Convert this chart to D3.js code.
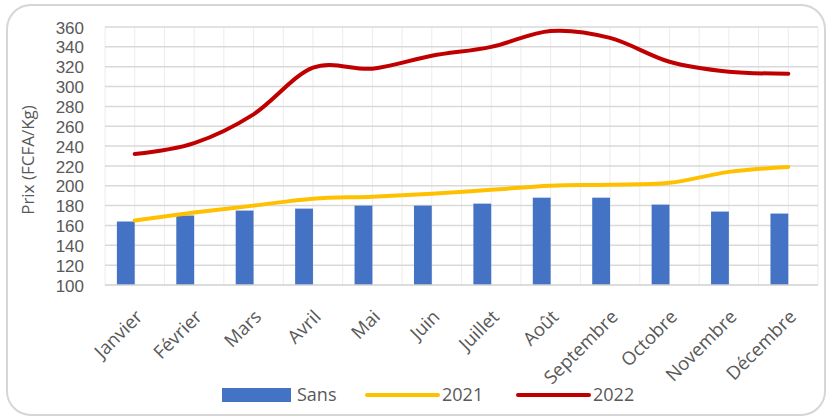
<!DOCTYPE html>
<html>
<head>
<meta charset="utf-8">
<script src="https://cdn.jsdelivr.net/npm/d3@7/dist/d3.min.js"></script>
<style>
  html, body { margin: 0; padding: 0; background: #fff; }
  svg { display: block; font-family: "Open Sans", "Liberation Sans", sans-serif; }
</style>
</head>
<body>
<svg id="chart" width="831" height="418"></svg>
<script>
// Monthly prices (FCFA/Kg)
const months = ["Janvier", "Février", "Mars", "Avril", "Mai", "Juin", "Juillet", "Août", "Septembre", "Octobre", "Novembre", "Décembre"];
const sans = [164, 170, 175, 177, 180, 180, 182, 188, 188, 181, 174, 172];
const prix2021 = [165, 173, 180, 187, 189, 192, 196, 200, 201, 203, 214, 219];
const prix2022 = [232, 243, 272, 319, 318, 331, 340, 356, 349, 325, 315, 313];
const yTicks = [100, 120, 140, 160, 180, 200, 220, 240, 260, 280, 300, 320, 340, 360];
const legendItems = [
  { name: "Sans", type: "bar", color: "#4472C4" },
  { name: "2021", type: "line", color: "#FFC000" },
  { name: "2022", type: "line", color: "#C00000" }
];

const svg = d3.select("#chart");
const W = 831, H = 418;
const plot = { left: 105, right: 818, top: 27, bottom: 285 };

// outer rounded frame
svg.append("rect")
  .attr("x", 7).attr("y", 5).attr("width", W - 13).attr("height", H - 8)
  .attr("rx", 24).attr("ry", 24)
  .attr("fill", "#fff").attr("stroke", "#d6d6d6").attr("stroke-width", 2);

const x = d3.scaleBand().domain(months).range([plot.left, plot.right]).padding(0);
const y = d3.scaleLinear().domain([100, 360]).range([plot.bottom, plot.top]);
const cx = m => x(m) + x.bandwidth() / 2;

// vertical grid (category edges and centres)
const vLines = d3.range(0, months.length * 2 + 1).map(k => plot.left + k * x.bandwidth() / 2);
svg.append("g").selectAll("line").data(vLines).join("line")
  .attr("x1", d => d).attr("x2", d => d)
  .attr("y1", plot.top).attr("y2", plot.bottom)
  .attr("stroke", "#ececec").attr("stroke-width", 1);

// horizontal grid
svg.append("g").selectAll("line").data(yTicks.slice(1)).join("line")
  .attr("x1", plot.left).attr("x2", plot.right)
  .attr("y1", d => y(d)).attr("y2", d => y(d))
  .attr("stroke", "#d9d9d9").attr("stroke-width", 1.5);

// y axis labels
const yAxis = d3.axisLeft(y).tickValues(yTicks).tickSize(0).tickPadding(0);
const gy = svg.append("g").attr("transform", `translate(84,0)`).call(yAxis);
gy.select(".domain").remove();
gy.selectAll("text")
  .attr("fill", "#595959").style("font-size", "17px")
  .style("font-family", "'Liberation Sans', sans-serif")
  .attr("dy", "0.36em");

// y axis title
svg.append("text")
  .attr("transform", `translate(34,${(plot.top + plot.bottom) / 2 + 4}) rotate(-90)`)
  .attr("text-anchor", "middle")
  .attr("fill", "#595959").style("font-size", "17px")
  .text("Prix (FCFA/Kg)");

// bars: clustered slot, the "Sans" series occupies the left slot
const inner = d3.scaleBand().domain(["Sans", "2021"])
  .range([-x.bandwidth() * 0.3, x.bandwidth() * 0.3]).padding(0);
svg.append("g").selectAll("rect").data(months).join("rect")
  .attr("x", (m) => cx(m) + inner("Sans"))
  .attr("width", inner.bandwidth())
  .attr("y", (m, i) => y(sans[i]))
  .attr("height", (m, i) => y(100) - y(sans[i]))
  .attr("fill", "#4472C4");

// baseline
svg.append("line")
  .attr("x1", plot.left).attr("x2", plot.right)
  .attr("y1", plot.bottom).attr("y2", plot.bottom)
  .attr("stroke", "#d0d0d0").attr("stroke-width", 1.5);

// smoothed lines
const line = d3.line()
  .x((d, i) => cx(months[i]))
  .y(d => y(d))
  .curve(d3.curveCatmullRom.alpha(0));

svg.append("path").datum(prix2021)
  .attr("d", line).attr("fill", "none")
  .attr("stroke", "#FFC000").attr("stroke-width", 4)
  .attr("stroke-linecap", "round");

svg.append("path").datum(prix2022)
  .attr("d", line).attr("fill", "none")
  .attr("stroke", "#C00000").attr("stroke-width", 4)
  .attr("stroke-linecap", "round");

// x axis labels, rotated
svg.append("g").selectAll("text").data(months).join("text")
  .attr("transform", m => `translate(${cx(m) + 9},${plot.bottom + 33}) rotate(-45)`)
  .attr("text-anchor", "end")
  .attr("fill", "#595959").style("font-size", "18.5px")
  .text(m => m);

// legend
const lg = svg.append("g");
const legendPos = [222, 367, 518];
legendItems.forEach((item, i) => {
  const lx = legendPos[i];
  if (item.type === "bar") {
    lg.append("rect").attr("x", lx).attr("y", 388).attr("width", 69).attr("height", 14)
      .attr("fill", item.color);
  } else {
    lg.append("line").attr("x1", lx).attr("x2", lx + 71).attr("y1", 395).attr("y2", 395)
      .attr("stroke", item.color).attr("stroke-width", 4).attr("stroke-linecap", "round");
  }
  lg.append("text").attr("x", lx + 75).attr("y", 395).attr("dy", "0.36em")
    .attr("fill", "#595959").style("font-size", "18px")
    .text(item.name);
});
</script>
</body>
</html>
